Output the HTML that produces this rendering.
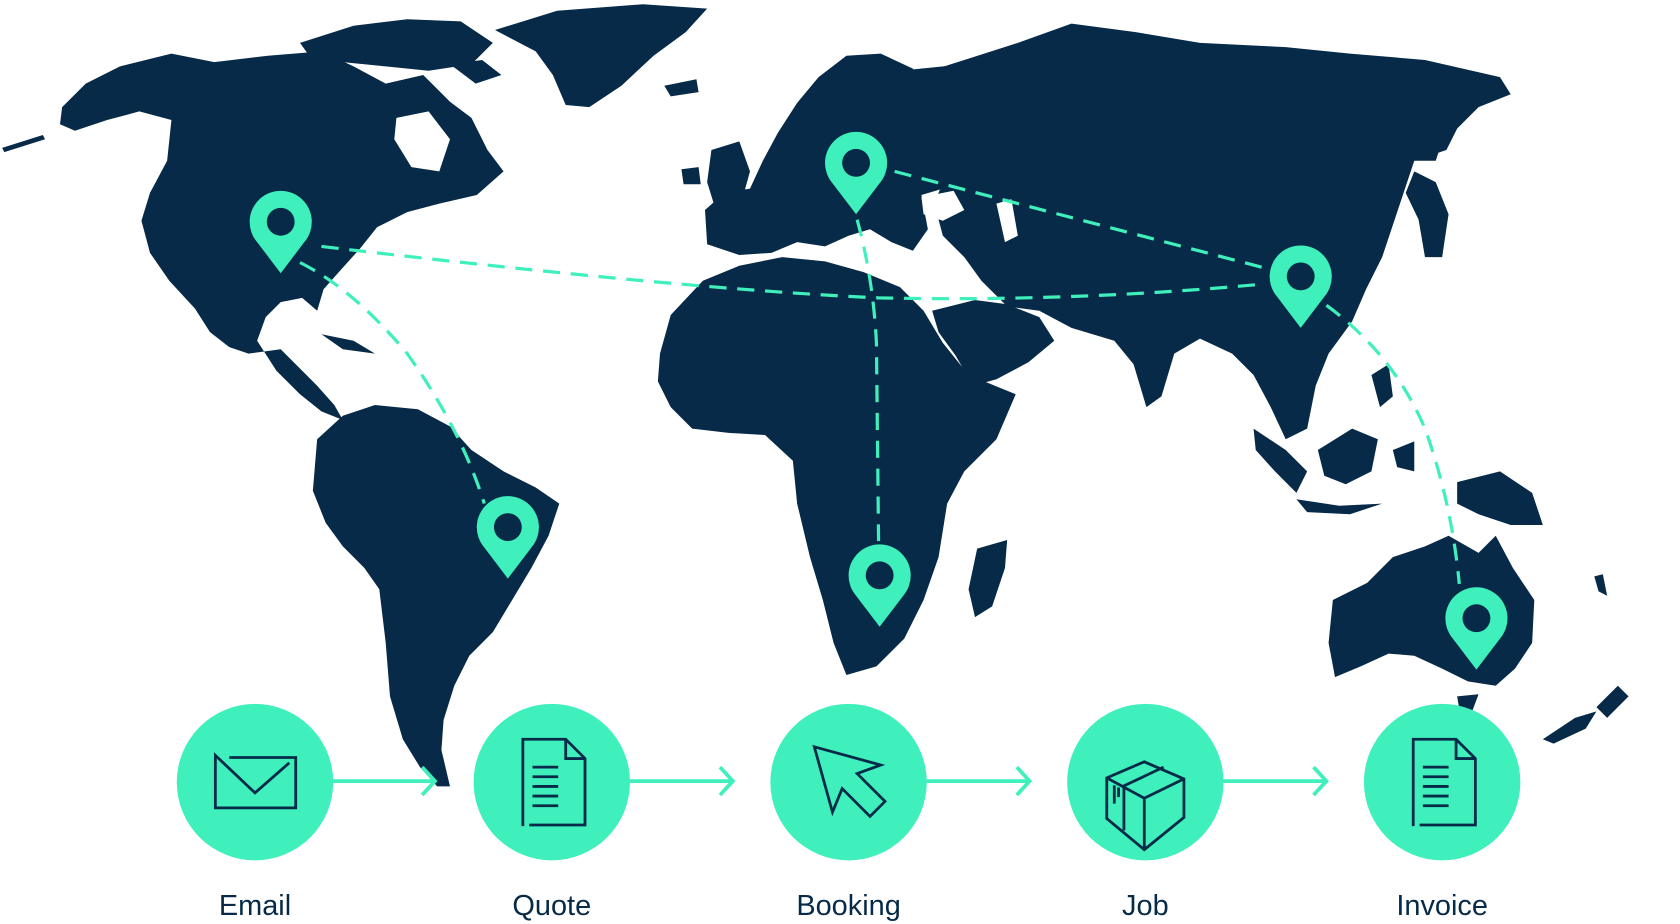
<!DOCTYPE html>
<html><head><meta charset="utf-8"><style>
html,body{margin:0;padding:0;background:#fff;width:1680px;height:924px;overflow:hidden}
svg{display:block}
text{font-family:"Liberation Sans",sans-serif;fill:#062a47}
</style></head><body>
<svg width="1680" height="924" viewBox="0 0 1568 862.4" preserveAspectRatio="none" xmlns="http://www.w3.org/2000/svg">
<g fill="#062a47">
<!-- North America -->
<path d="M58,100 L80,78 L112,62 L160,50 L200,58 L250,52 L300,48 L330,62 L360,78 L395,70 L420,95 L440,110 L455,140 L470,160 L445,182 L410,190 L380,198 L352,212 L336,232 L318,252 L302,270 L296,290 L282,278 L262,282 L248,296 L240,318 L258,346 L280,368 L300,384 L320,392 L312,378 L296,360 L276,340 L262,326 L232,330 L214,324 L196,310 L182,288 L158,262 L140,236 L132,206 L140,180 L156,150 L160,112 L130,104 L100,112 L70,122 L56,116 Z"/>
<path d="M2,138 L40,126 L42,130 L4,142 Z"/>
<path d="M280,40 L330,24 L380,18 L430,20 L460,40 L440,60 L400,66 L360,62 L320,58 L290,54 Z"/>
<path d="M300,70 L330,66 L350,80 L320,90 Z"/>
<path d="M380,30 L410,26 L420,36 L392,40 Z"/>
<path d="M420,60 L450,56 L468,70 L444,78 Z"/>
<!-- Greenland -->
<path d="M462,28 L520,10 L600,4 L660,8 L640,30 L610,52 L580,80 L550,100 L528,98 L516,70 L500,48 Z"/>
<path d="M620,80 L650,74 L652,86 L626,90 Z"/>
<!-- Cuba etc -->
<path d="M300,312 L330,318 L350,330 L320,326 Z"/>
<!-- South America -->
<path d="M296,410 L320,388 L350,378 L390,382 L420,398 L440,420 L470,440 L500,455 L522,470 L512,500 L496,530 L478,560 L460,590 L438,612 L424,640 L414,672 L412,700 L420,734 L408,734 L392,716 L376,690 L364,650 L360,600 L354,550 L340,530 L320,510 L304,488 L292,458 Z"/>
<!-- Europe -->
<path d="M660,228 L658,196 L676,180 L700,176 L712,150 L726,124 L744,96 L764,72 L790,52 L822,50 L852,64 L872,84 L870,110 L888,130 L900,150 L880,176 L860,182 L866,214 L852,234 L832,226 L812,214 L792,220 L770,230 L744,226 L720,236 L690,238 Z"/>
<path d="M664,140 L690,132 L700,160 L690,196 L668,196 L660,170 Z"/>
<path d="M636,158 L652,156 L654,172 L638,172 Z"/>
<!-- Russia bridge -->
<path d="M840,66 L900,60 L920,120 L910,170 L880,180 L860,120 Z"/>
<!-- Asia -->
<path d="M856,70 L900,56 L950,40 L1000,22 L1060,30 L1120,40 L1200,44 L1260,50 L1330,56 L1400,72 L1410,88 L1380,100 L1360,120 L1350,140 L1320,150 L1310,180 L1300,210 L1290,240 L1275,270 L1262,300 L1240,330 L1228,360 L1220,400 L1200,410 L1186,380 L1170,350 L1150,330 L1120,316 L1096,330 L1084,370 L1070,380 L1058,340 L1040,318 L1000,306 L970,290 L940,286 L916,262 L900,240 L880,220 L872,190 L880,170 L900,150 L880,120 L868,92 Z"/>
<path d="M1270,130 L1300,118 L1330,110 L1350,120 L1340,150 L1300,150 L1280,140 Z"/>
<path d="M1320,160 L1340,170 L1352,200 L1346,240 L1330,240 L1324,205 L1312,180 Z"/>
<!-- Middle east -->
<path d="M870,290 L910,280 L940,284 L970,296 L984,318 L960,338 L930,354 L908,360 L892,332 L876,310 Z"/>
<!-- Africa -->
<path d="M616,330 L626,294 L656,262 L690,248 L730,240 L770,244 L806,254 L840,268 L862,290 L880,320 L904,350 L948,368 L930,410 L900,440 L884,470 L876,520 L862,560 L844,596 L818,622 L790,630 L778,600 L768,560 L756,520 L744,470 L740,430 L714,406 L680,404 L646,400 L626,380 L614,356 Z"/>
<path d="M912,512 L940,504 L938,530 L926,566 L910,576 L904,550 Z"/>
<!-- SE Asia islands -->
<path d="M1170,400 L1200,420 L1220,440 L1210,460 L1190,440 L1172,420 Z"/>
<path d="M1230,420 L1262,400 L1286,410 L1280,440 L1256,452 L1236,444 Z"/>
<path d="M1210,466 L1250,472 L1290,470 L1260,480 L1220,478 Z"/>
<path d="M1300,420 L1320,412 L1320,440 L1304,436 Z"/>
<path d="M1280,350 L1296,340 L1300,370 L1288,380 Z"/>
<path d="M1360,450 L1400,440 L1430,460 L1440,490 L1410,490 L1380,480 L1360,470 Z"/>
<!-- Australia -->
<path d="M1244,560 L1276,544 L1300,520 L1330,510 L1352,500 L1380,516 L1396,500 L1412,530 L1432,560 L1430,600 L1414,624 L1396,640 L1370,636 L1346,624 L1320,612 L1296,610 L1270,622 L1246,632 L1240,600 Z"/>
<path d="M1360,650 L1380,648 L1374,664 L1362,662 Z"/>
<!-- New Zealand -->
<path d="M1490,660 L1510,640 L1520,650 L1500,670 Z"/>
<path d="M1440,690 L1470,670 L1490,664 L1480,680 L1450,694 Z"/>
<path d="M1488,538 L1496,536 L1500,556 L1492,552 Z"/>
</g>
<!-- white seas -->
<g fill="#fff">
<path d="M370,110 L400,104 L420,130 L410,160 L384,156 L368,130 Z"/>
<path d="M860,184 L890,178 L900,196 L880,206 L862,200 Z"/>
<path d="M930,190 L944,186 L950,220 L938,226 Z"/>
</g>
<!-- dashed routes -->
<g fill="none" stroke="#3ff0bd" stroke-width="3" stroke-dasharray="16 10">
<path d="M300,230 Q640,270 820,278 Q1000,282 1180,265"/>
<path d="M280,245 Q330,270 380,330 Q430,400 452,470"/>
<path d="M835,160 L1180,250"/>
<path d="M800,205 Q815,260 818,320 L820,505"/>
<path d="M1238,285 Q1300,330 1330,400 Q1355,470 1362,545"/>
</g>
<!-- pins -->
<g>
<g transform="translate(262,207)"><path d="M0,48 L-22,19 A29,29 0 1 1 22,19 Z" fill="#3ff0bd"/><circle r="13" fill="#062a47"/></g>
<g transform="translate(474,492)"><path d="M0,48 L-22,19 A29,29 0 1 1 22,19 Z" fill="#3ff0bd"/><circle r="13" fill="#062a47"/></g>
<g transform="translate(799,152)"><path d="M0,48 L-22,19 A29,29 0 1 1 22,19 Z" fill="#3ff0bd"/><circle r="13" fill="#062a47"/></g>
<g transform="translate(821,537)"><path d="M0,48 L-22,19 A29,29 0 1 1 22,19 Z" fill="#3ff0bd"/><circle r="13" fill="#062a47"/></g>
<g transform="translate(1214,258)"><path d="M0,48 L-22,19 A29,29 0 1 1 22,19 Z" fill="#3ff0bd"/><circle r="13" fill="#062a47"/></g>
<g transform="translate(1378,577)"><path d="M0,48 L-22,19 A29,29 0 1 1 22,19 Z" fill="#3ff0bd"/><circle r="13" fill="#062a47"/></g>
</g>
<!-- flow arrows -->
<g stroke="#3ff0bd" stroke-width="3.5" fill="none">
<path d="M300,729 L404,729 M394,716 L406,729 L394,742"/>
<path d="M577,729 L682,729 M672,716 L684,729 L672,742"/>
<path d="M854,729 L959,729 M949,716 L961,729 L949,742"/>
<path d="M1131,729 L1236,729 M1226,716 L1238,729 L1226,742"/>
</g>
<g fill="#3ff0bd">
<circle cx="238" cy="730" r="73"/><circle cx="515" cy="730" r="73"/><circle cx="792" cy="730" r="73"/><circle cx="1069" cy="730" r="73"/><circle cx="1346" cy="730" r="73"/>
</g>
<g stroke="#062a47" stroke-width="2.6" fill="none">
<path d="M214,707 L276,707 L276,754 L201,754 L201,705 L238,740 L270,712"/>
<path d="M488,771 L488,690 L528,690 L546,708 L546,770 L494,770 M528,690 L528,708 L546,708"/>
<path d="M497,716 L521,716 M497,725 L521,725 M497,734 L521,734 M497,743 L521,743 M497,752 L521,752"/>
<path d="M760,697 L822,714 L800,722 L826,748 L812,762 L786,736 L777,758 Z"/>
<path d="M1033,726 L1068,711 L1105,727 L1105,763 L1068,793 L1033,764 Z M1033,726 L1068,745 L1105,727 M1068,745 L1068,793 M1049,735 L1049,775 M1048,734 L1086,716 M1040,733 L1040,750 M1044,735 L1044,744"/>
<path d="M1319,771 L1319,690 L1359,690 L1377,708 L1377,770 L1325,770 M1359,690 L1359,708 L1377,708"/>
<path d="M1328,716 L1352,716 M1328,725 L1352,725 M1328,734 L1352,734 M1328,743 L1352,743 M1328,752 L1352,752"/>
</g>
<g font-size="27" text-anchor="middle">
<text x="238" y="854">Email</text>
<text x="515" y="854">Quote</text>
<text x="792" y="854">Booking</text>
<text x="1069" y="854">Job</text>
<text x="1346" y="854">Invoice</text>
</g>
</svg>
</body></html>
